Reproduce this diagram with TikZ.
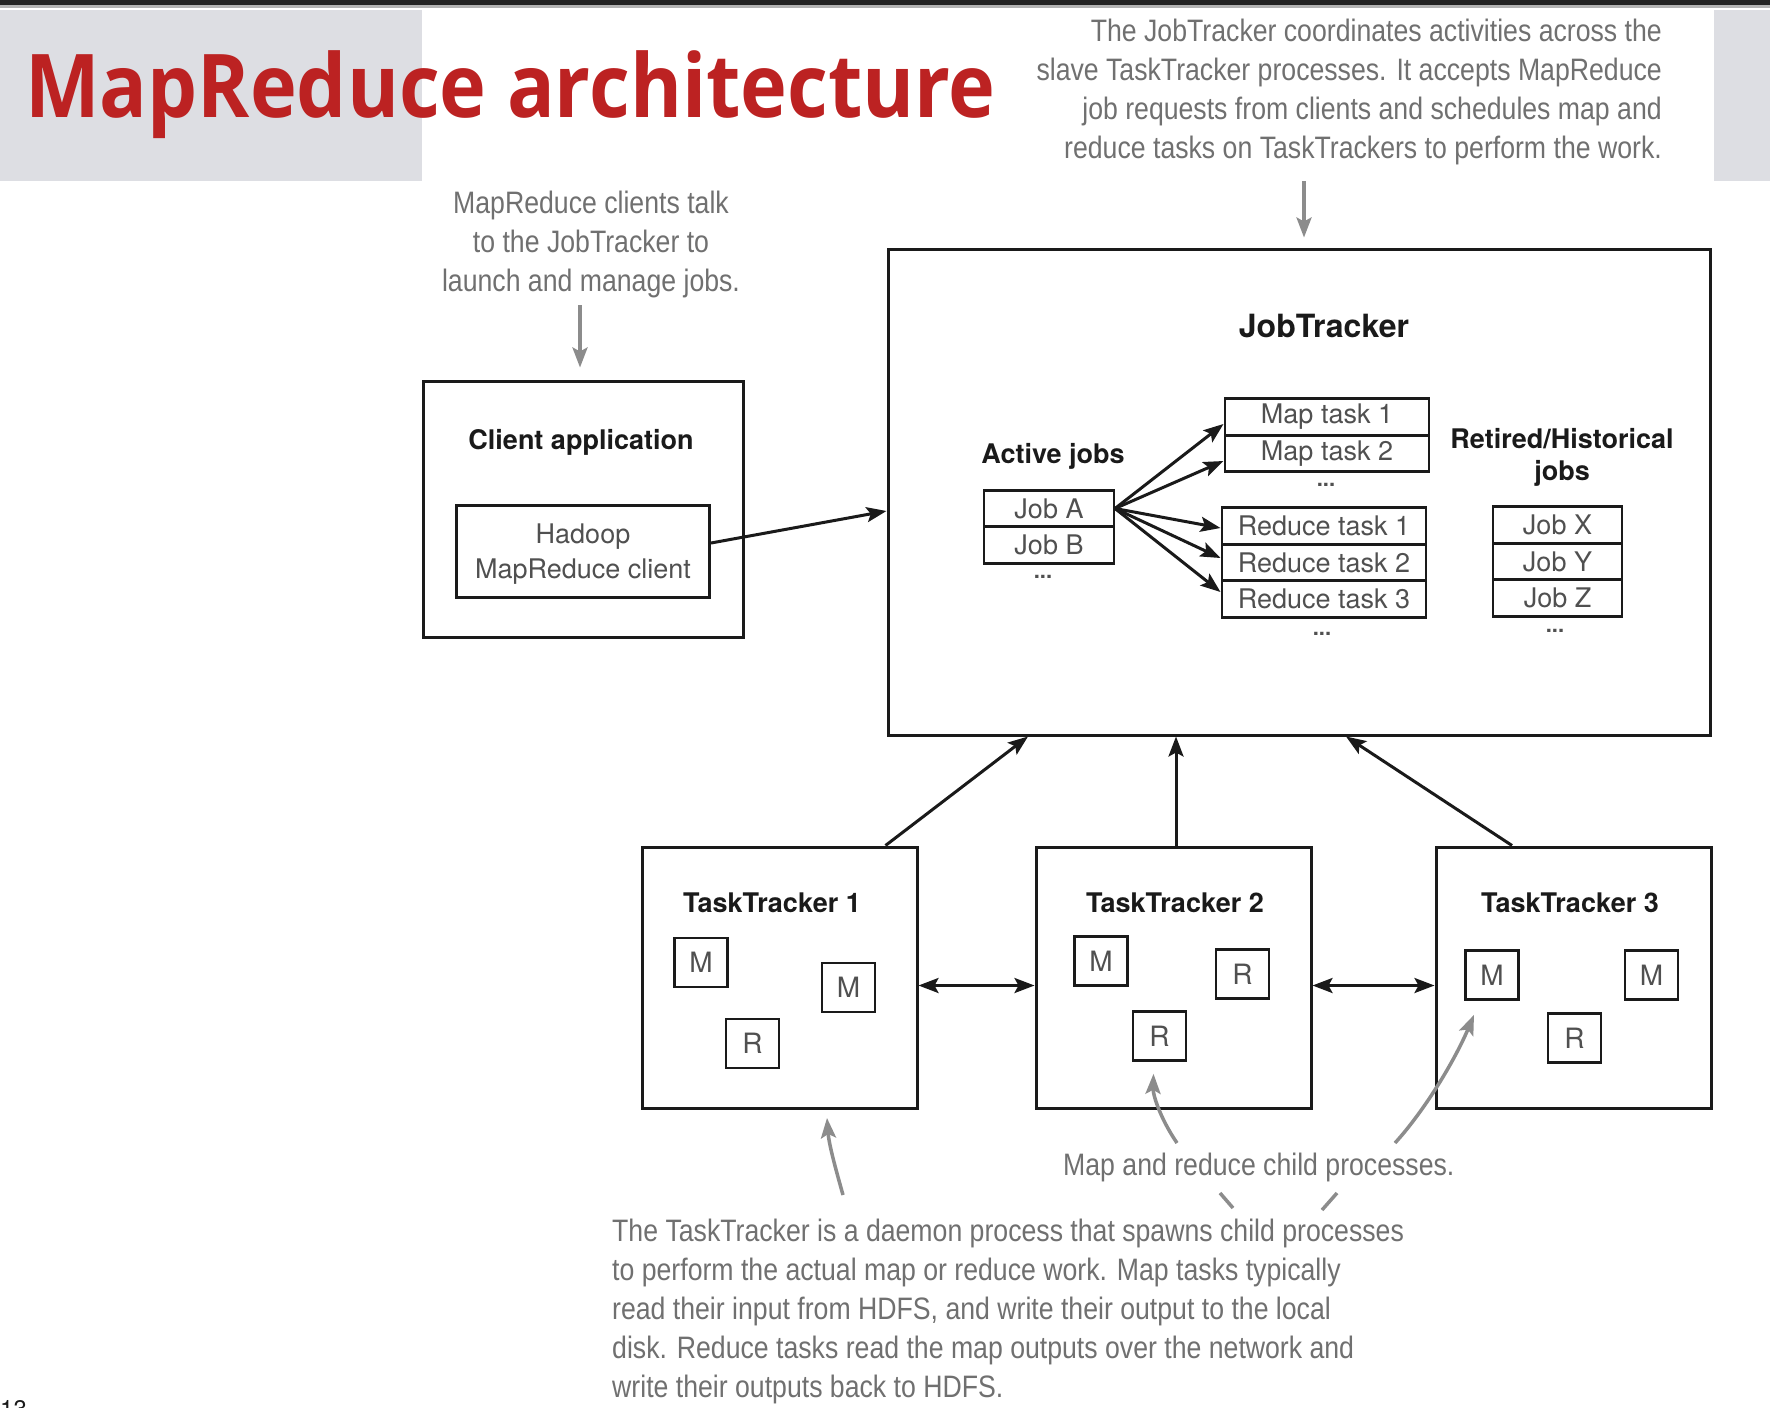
\documentclass[tikz,border=0pt]{standalone}
\usepackage{fontspec}
\setmainfont{TeX Gyre Heros}
\newfontfamily\handfont[FakeStretch=0.86]{Liberation Sans}
\newfontfamily\titlefont[FakeStretch=0.9]{Open Sans}
\usetikzlibrary{arrows.meta,positioning}

\definecolor{titlered}{RGB}{188,34,34}
\definecolor{panelgray}{RGB}{221,222,227}
\definecolor{topbar}{RGB}{34,34,34}
\definecolor{notegray}{RGB}{112,112,112}
\definecolor{arrowgray}{RGB}{140,140,140}
\definecolor{ink}{RGB}{26,26,26}
\definecolor{textgray}{RGB}{80,80,80}

\tikzset{
	box/.style={draw=ink, line width=3pt, inner sep=0pt},
	row/.style={draw=ink, line width=2.6pt, inner sep=0pt, outer sep=0pt, minimum height=36.5pt, text=textgray, font=\fontsize{27}{32}\selectfont},
	minibox/.style={draw=ink, line width=2.6pt, inner sep=0pt, minimum width=53pt, minimum height=49pt, text=textgray, font=\fontsize{28}{32}\selectfont},
	heading/.style={text=ink, inner sep=0pt, align=center, font=\bfseries\fontsize{27}{32}\selectfont},
	dots/.style={text=textgray, inner sep=0pt, font=\bfseries\fontsize{22}{24}\selectfont},
	link/.style={draw=ink, line width=3pt, -{Stealth[length=20pt,width=15pt,inset=4pt]}},
	twoway/.style={draw=ink, line width=3pt, {Stealth[length=20pt,width=15pt,inset=4pt]}-{Stealth[length=20pt,width=15pt,inset=4pt]}},
	note/.style={text=notegray, inner sep=0pt, font=\handfont\fontsize{31}{39}\selectfont},
	notearrow/.style={draw=arrowgray, line width=3.5pt, -{Stealth[length=20pt,width=15pt,inset=4pt]}},
	titletext/.style={text=titlered, inner sep=0pt, font=\titlefont\bfseries\fontsize{88}{96}\selectfont}
}

\begin{document}
\begin{tikzpicture}[x=1pt, y=-1pt]

		\useasboundingbox (0,0) rectangle (1770,1408);
		\fill[white] (0,0) rectangle (1770,1408);
		\fill[topbar] (0,0) rectangle (1770,5);
		\fill[black!30] (0,5) rectangle (1770,8);
		\fill[panelgray] (0,10) rectangle (422,181);
		\fill[panelgray] (1714,10) rectangle (1770,181);

		\node[titletext, anchor=base west] (title) at (25,117) {MapReduce architecture};

		% client
		\node[box, minimum width=320pt, minimum height=256pt] (client) at (583,509) {};
		\node[heading, anchor=base] (clienthead) at (581,449) {Client application};
		\node[box, minimum width=253pt, minimum height=92pt, align=center, text depth=0pt, text=textgray, font=\fontsize{27}{35}\selectfont] (hadoopcl) at (583,551) {Hadoop\\MapReduce client};

		% job tracker
		\node[box, minimum width=822pt, minimum height=486pt] (jt) at (1299,492) {};
		\node[heading, anchor=base, font=\bfseries\fontsize{32}{36}\selectfont] (jthead) at (1324,337) {JobTracker};

		\node[heading, anchor=base] (activehead) at (1053,463) {Active jobs};
		\node[row, minimum width=130pt] (jobA) at (1049,508.5) {Job A};
		\node[row, minimum width=130pt, below=0pt of jobA] (jobB) {Job B};
		\node[dots] (activedots) at (1043,577) {...};

		\node[row, minimum width=204pt] (mt1) at (1327,417) {Map task 1};
		\node[row, minimum width=204pt, below=0pt of mt1] (mt2) {Map task 2};
		\node[dots] (mapdots) at (1326,485) {...};

		\node[row, minimum width=204pt] (rt1) at (1324,526) {Reduce task 1};
		\node[row, minimum width=204pt, below=0pt of rt1] (rt2) {Reduce task 2};
		\node[row, minimum width=204pt, below=0pt of rt2] (rt3) {Reduce task 3};
		\node[dots] (reducedots) at (1322,634) {...};

		\node[heading, anchor=base] (retiredhead) at (1562,480) {Retired/Historical\\jobs};
		\node[row, minimum width=129pt] (jobX) at (1557.5,525) {Job X};
		\node[row, minimum width=129pt, below=0pt of jobX] (jobY) {Job Y};
		\node[row, minimum width=129pt, below=0pt of jobY] (jobZ) {Job Z};
		\node[dots] (retireddots) at (1555,631) {...};

		% task trackers
		\node[box, minimum width=275pt, minimum height=261pt] (tt1) at (779.5,977.5) {};
		\node[box, minimum width=275pt, minimum height=261pt] (tt2) at (1173.5,977.5) {};
		\node[box, minimum width=275pt, minimum height=261pt] (tt3) at (1573.5,977.5) {};
		\node[heading, anchor=base] (tt1head) at (772,912) {TaskTracker 1};
		\node[heading, anchor=base] (tt2head) at (1175,912) {TaskTracker 2};
		\node[heading, anchor=base] (tt3head) at (1570,912) {TaskTracker 3};

		\node[minibox] (m11) at (701,962.5) {M};
		\node[minibox] (m12) at (848.5,987.5) {M};
		\node[minibox] (r11) at (752.5,1043.5) {R};
		\node[minibox] (m21) at (1101,961) {M};
		\node[minibox] (r21) at (1242.5,974) {R};
		\node[minibox] (r22) at (1159.5,1036) {R};
		\node[minibox] (m31) at (1492,975) {M};
		\node[minibox] (m32) at (1651.5,975) {M};
		\node[minibox] (r31) at (1574.5,1038) {R};

		% connectors
		\draw[link] ([yshift=8pt]hadoopcl.east) -- ([yshift=-19pt]jt.west);
		\draw[link] ([xshift=1pt]jobA.east) -- ([xshift=-1.5pt, yshift=-7pt]mt1.west);
		\draw[link] ([xshift=1pt]jobA.east) -- ([xshift=-1.5pt, yshift=-7.5pt]mt2.west);
		\draw[link] ([xshift=1pt]jobA.east) -- ([xshift=-1.5pt, yshift=-2pt]rt1.west);
		\draw[link] ([xshift=1pt]jobA.east) -- ([xshift=-1.5pt, yshift=4.5pt]rt2.west);
		\draw[link] ([xshift=1pt]jobA.east) -- ([xshift=-1.5pt, yshift=7pt]rt3.west);
		\draw[link] ([xshift=106pt]tt1.north) -- ([xshift=-271pt]jt.south);
		\draw[link] ([xshift=2.5pt]tt2.north) -- ([xshift=-123pt]jt.south);
		\draw[link] ([xshift=-61.5pt]tt3.north) -- ([xshift=47pt]jt.south);
		\draw[twoway] ([yshift=-8pt]tt1.east) -- ([yshift=-8pt]tt2.west);
		\draw[twoway] ([yshift=-8pt]tt2.east) -- ([yshift=-8pt]tt3.west);

		% notes
		\node[note, anchor=north east, align=right] (jtnote) at (1662,19) {The JobTracker coordinates activities across the\\slave TaskTracker processes. It accepts MapReduce\\job requests from clients and schedules map and\\reduce tasks on TaskTrackers to perform the work.};
		\node[note, anchor=north, align=center] (clnote) at (591,191) {MapReduce clients talk\\to the JobTracker to\\launch and manage jobs.};
		\node[note, anchor=base west] (childnote) at (1063,1175) {Map and reduce child processes.};
		\node[note, anchor=north west, align=left] (ttnote) at (612,1219) {The TaskTracker is a daemon process that spawns child processes\\to perform the actual map or reduce work. Map tasks typically\\read their input from HDFS, and write their output to the local\\disk. Reduce tasks read the map outputs over the network and\\write their outputs back to HDFS.};
		\node[anchor=north west, inner sep=0pt, text=ink, font=\fontsize{24}{26}\selectfont] (pagenum) at (0,1400) {13};

		\coordinate (jtcallout) at (1304,181);
		\coordinate (clcallout) at (580,305);
		\coordinate (ttcallout) at (843,1195);
		\coordinate (childcalloutA) at (1177,1143);
		\coordinate (childcalloutB) at (1395,1143);

		\draw[notearrow, shorten >=10pt] (jtcallout) -- (jtcallout |- jt.north);
		\draw[notearrow, shorten >=12pt] (clcallout) -- (clcallout |- client.north);
		\draw[notearrow] (ttcallout) .. controls (836,1170) and (829,1145) .. ([xshift=47.5pt, yshift=-8.5pt]tt1.south);
		\draw[notearrow] (childcalloutA) .. controls (1160,1118) and (1153,1095) .. ([xshift=-6pt, yshift=-12pt]r22.south);
		\draw[notearrow] (childcalloutB) .. controls (1425,1110) and (1455,1060) .. ([xshift=-18pt, yshift=-14pt]m31.south);
		\draw[arrowgray, line width=3.5pt] (1220,1193) -- (1233,1208);
		\draw[arrowgray, line width=3.5pt] (1337,1193) -- (1322,1210);

	\end{tikzpicture}
\end{document}
